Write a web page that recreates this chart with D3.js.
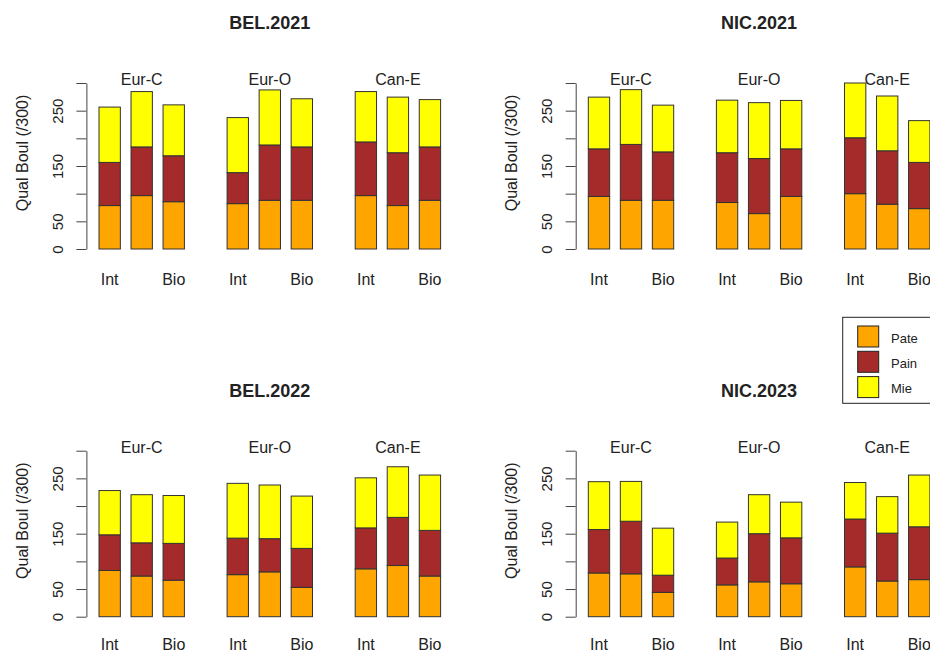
<!DOCTYPE html>
<html>
<head>
<meta charset="utf-8">
<script src="https://cdn.jsdelivr.net/npm/d3@7/dist/d3.min.js"></script>
<style>
  html, body { margin: 0; padding: 0; background: #fff; }
  svg { display: block; font-family: "Liberation Sans", Arial, sans-serif; }
</style>
</head>
<body>
<svg id="chart" width="930" height="653"></svg>
<script>
// Panels (site.year), groups of bars and bar names
const panels = ["BEL.2021", "NIC.2021", "BEL.2022", "NIC.2023"];
const groups = ["Eur-C", "Eur-O", "Can-E"];
const barNames = ["Int", "", "Bio"];
const components = ["Pate", "Pain", "Mie"];
const colors = ["#FFA500", "#A52A2A", "#FFFF00"];
const yTicks = [0, 50, 100, 150, 200, 250, 300];
const yTickLabels = [0, 50, 150, 250];

// Scores per panel: 9 bars = 3 groups x 3 bars (Int, -, Bio)
const pate = [
  [78.5, 96.5, 85.5, 82, 88, 88, 96.5, 78.5, 88],
  [95, 88, 88, 84, 64, 95, 100, 81, 73],
  [83.5, 73.5, 66, 76, 81, 53, 86.5, 92.5, 73.5],
  [79, 77.5, 44, 57.5, 63, 59.5, 90, 64.5, 67]
];
const pain = [
  [78, 88, 83, 56, 100, 96.5, 97, 95.5, 96.5],
  [86, 101, 87.5, 90, 99.5, 86, 101, 96.5, 83.5],
  [64.5, 60, 66.5, 66, 60, 70.5, 74, 87, 82.5],
  [78.5, 95, 31, 48.5, 87, 83, 86.5, 86.5, 95.5]
];
const mie = [
  [100, 100, 92, 99.5, 99.5, 87, 91, 100.5, 85.5],
  [93.5, 99, 84.5, 95, 101, 87.5, 99, 99, 75.5],
  [80, 87, 86.5, 99, 97, 94.5, 90.5, 91.5, 100],
  [86.5, 72, 85, 65, 70.5, 64.5, 66, 66, 93.5]
];

const svg = d3.select("#chart");
const seriesByComp = [pate, pain, mie];

// Bar slots: width 1, 0.5 space inside a group, 2 between groups
function barLeft(i) {
  const g = Math.floor(i / 3), j = i % 3;
  return 0.5 + g * 6 + j * 1.5;
}

const colStep = 489.3, rowStep = 367.7;
const ink = "#222";

panels.forEach((name, p) => {
  const col = p % 2, row = Math.floor(p / 2);
  const x0 = 99 + col * colStep;
  const x = d3.scaleLinear().domain([0.5, 16.5]).range([x0, x0 + 16 * 21.35]);
  const yBase = 249 + row * rowStep;
  const y = d3.scaleLinear().domain([0, 300]).range([yBase, yBase - 166]);
  const g = svg.append("g");

  // Title
  g.append("text")
    .attr("x", x(8.5)).attr("y", 29 + row * rowStep)
    .attr("text-anchor", "middle")
    .attr("font-weight", "bold").attr("font-size", 18).attr("fill", ink)
    .text(name);

  // Stacked bars
  const stackData = d3.range(9).map(i => {
    const row = { i };
    components.forEach((c, k) => { row[c] = seriesByComp[k][p][i]; });
    return row;
  });
  const stacked = d3.stack().keys(components)(stackData);
  stacked.forEach((layer, k) => {
    g.append("g").selectAll("rect").data(layer).join("rect")
      .attr("x", d => x(barLeft(d.data.i)))
      .attr("width", d => x(barLeft(d.data.i) + 1) - x(barLeft(d.data.i)))
      .attr("y", d => y(d[1]))
      .attr("height", d => y(d[0]) - y(d[1]))
      .attr("fill", colors[k])
      .attr("stroke", "#333").attr("stroke-width", 1);
  });

  // Group labels above each group
  groups.forEach((gr, gi) => {
    g.append("text")
      .attr("x", x(barLeft(gi * 3 + 1) + 0.5)).attr("y", 85 + row * rowStep)
      .attr("text-anchor", "middle").attr("font-size", 16).attr("fill", ink)
      .text(gr);
  });

  // Bar names below the bars
  d3.range(9).forEach(i => {
    const lab = barNames[i % 3];
    if (!lab) return;
    g.append("text")
      .attr("x", x(barLeft(i) + 0.5)).attr("y", row === 0 ? 285 : 650)
      .attr("text-anchor", "middle").attr("font-size", 16).attr("fill", ink)
      .text(lab);
  });

  // Y axis
  const axisX = x0 - 12.6;
  const ax = g.append("g").attr("transform", `translate(${axisX},0)`)
    .call(d3.axisLeft(y).tickValues(yTicks).tickSize(10).tickSizeOuter(0)
      .tickFormat(d => yTickLabels.includes(d) ? d : ""));
  ax.select(".domain").attr("stroke", "#444");
  ax.selectAll(".tick line").attr("stroke", "#444");
  ax.selectAll(".tick text")
    .attr("transform", "rotate(-90)")
    .attr("x", 0).attr("y", -23.4).attr("dy", 0)
    .attr("text-anchor", "middle")
    .attr("font-size", 15).attr("fill", ink)
    .attr("font-family", "Liberation Sans, Arial, sans-serif");

  // Y axis title
  g.append("text")
    .attr("transform", `translate(${axisX - 58.4},${153 + row * rowStep}) rotate(-90)`)
    .attr("text-anchor", "middle").attr("font-size", 16).attr("fill", ink)
    .text("Qual Boul (/300)");
});

// Legend
const leg = svg.append("g");
leg.append("rect").attr("x", 842.7).attr("y", 317.3).attr("width", 100).attr("height", 86)
  .attr("fill", "#fff").attr("stroke", "#222").attr("stroke-width", 1);
components.forEach((c, k) => {
  const yy = 326 + k * 25.3;
  leg.append("rect").attr("x", 857.7).attr("y", yy).attr("width", 21).attr("height", 21)
    .attr("fill", colors[k]).attr("stroke", "#222").attr("stroke-width", 1);
  leg.append("text").attr("x", 891).attr("y", yy + 16.5)
    .attr("font-size", 13).attr("fill", ink).text(c);
});
</script>
</body>
</html>
